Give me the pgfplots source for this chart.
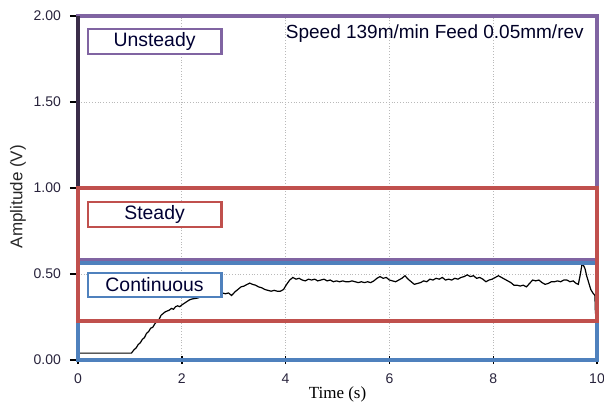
\documentclass[border=0pt]{standalone}
\usepackage{pgfplots}
\pgfplotsset{compat=1.18}
\usepackage{fontspec}
\setmainfont{Liberation Sans}
\newfontfamily\timesfont{Liberation Serif}

\definecolor{zonePurple}{RGB}{128,100,162}
\definecolor{zoneRed}{RGB}{192,80,77}
\definecolor{zoneBlue}{RGB}{79,129,189}
\definecolor{tickText}{RGB}{40,35,60}

\begin{document}
\begin{tikzpicture}
\useasboundingbox (-39pt,-21.5pt) rectangle (263pt,180pt);
\begin{axis}[
  scale only axis,
  width=259.5pt, height=172pt,
  xmin=0, xmax=10, ymin=0, ymax=2,
  xtick={0,2,4,6,8,10},
  ytick={0,0.5,1,1.5,2},
  axis line style={draw=none},
  grid=major,
  grid style={densely dotted, gray!55, line width=0.5pt},
  xtick pos=bottom, ytick pos=left,
  x tick style={black, line width=0.7pt},
  y tick style={black, line width=0.6pt},
  xtick align=center, ytick align=outside,
  major tick length=4pt,
  /pgf/number format/assume math mode=true,
  yticklabel style={/pgf/number format/fixed, /pgf/number format/fixed zerofill, /pgf/number format/precision=2},
  ticklabel style={font=\fontsize{7}{8}\selectfont, text=tickText},
  xticklabel style={yshift=-1.5pt},
  yticklabel style={xshift=-1pt},
  xlabel={\timesfont Time (s)},
  ylabel={Amplitude (V)},
  xlabel style={at={(axis description cs:0.5,0)}, anchor=center, yshift=-17pt, font=\fontsize{8.5}{10}\selectfont},
  ylabel style={at={(axis description cs:-0.1156,0.475)}, anchor=center, rotate=0, font=\fontsize{8.5}{10}\selectfont, text=black!85},
  clip=false,
]
\addplot[black, line width=0.6pt, mark=none] coordinates {
(0,0.04) (1.03,0.04) (1.08,0.06) (1.12,0.07) (1.16,0.09) (1.20,0.10)
(1.24,0.12) (1.28,0.13) (1.32,0.155) (1.36,0.165) (1.40,0.185) (1.44,0.19)
(1.48,0.21) (1.52,0.225) (1.56,0.235) (1.60,0.26) (1.64,0.27) (1.68,0.28)
(1.72,0.285) (1.76,0.29) (1.80,0.30) (1.84,0.295) (1.88,0.31) (1.92,0.315)
(1.96,0.31) (2.00,0.32) (2.05,0.33) (2.10,0.34) (2.15,0.35) (2.20,0.355)
(2.30,0.36) (2.40,0.37) (2.50,0.375) (2.60,0.38) (2.70,0.385) (2.78,0.39)
(2.84,0.385) (2.90,0.39) (2.96,0.375) (3.02,0.395) (3.08,0.41) (3.14,0.425)
(3.20,0.43) (3.26,0.44) (3.31,0.447) (3.36,0.44) (3.42,0.435) (3.48,0.425)
(3.54,0.42) (3.60,0.41) (3.66,0.405) (3.72,0.40) (3.78,0.405) (3.84,0.40)
(3.90,0.40) (3.96,0.41) (4.02,0.44) (4.08,0.465) (4.14,0.48) (4.20,0.47)
(4.26,0.475) (4.32,0.465) (4.38,0.46) (4.44,0.47) (4.50,0.465) (4.56,0.47)
(4.62,0.46) (4.68,0.465) (4.74,0.47) (4.80,0.46) (4.86,0.465) (4.92,0.455)
(4.98,0.46) (5.04,0.455) (5.10,0.46) (5.16,0.455) (5.22,0.455) (5.28,0.46)
(5.34,0.455) (5.40,0.45) (5.46,0.455) (5.52,0.45) (5.58,0.455) (5.64,0.45)
(5.70,0.46) (5.76,0.475) (5.82,0.485) (5.88,0.475) (5.94,0.48) (6.00,0.465)
(6.06,0.46) (6.12,0.455) (6.18,0.465) (6.24,0.475) (6.30,0.49) (6.36,0.47)
(6.42,0.455) (6.48,0.44) (6.54,0.445) (6.60,0.45) (6.66,0.46) (6.72,0.455)
(6.78,0.47) (6.84,0.465) (6.90,0.475) (6.96,0.47) (7.02,0.48) (7.08,0.465)
(7.14,0.47) (7.20,0.465) (7.26,0.475) (7.32,0.47) (7.38,0.48) (7.44,0.485)
(7.50,0.495) (7.56,0.485) (7.62,0.49) (7.68,0.475) (7.74,0.48) (7.80,0.47)
(7.86,0.455) (7.92,0.465) (7.98,0.47) (8.04,0.48) (8.10,0.49) (8.16,0.48)
(8.22,0.47) (8.28,0.46) (8.34,0.45) (8.40,0.435) (8.46,0.435) (8.52,0.43)
(8.58,0.435) (8.64,0.425) (8.70,0.445) (8.76,0.465) (8.82,0.46) (8.88,0.465)
(8.94,0.45) (9.00,0.44) (9.06,0.445) (9.12,0.455) (9.18,0.455) (9.24,0.46)
(9.30,0.455) (9.36,0.465) (9.42,0.465) (9.48,0.455) (9.54,0.46) (9.60,0.445)
(9.64,0.44) (9.68,0.50) (9.71,0.555) (9.74,0.55) (9.77,0.53) (9.80,0.49)
(9.84,0.45) (9.88,0.41) (9.92,0.39) (9.96,0.375) (9.97,0.27)
};

% regime zones
\draw[zonePurple, line width=1.8pt] (axis cs:0,0.583) rectangle (axis cs:10,2);
\draw[zonePurple!45!black, line width=1.8pt] (axis cs:0,1) -- (axis cs:0,2);
\draw[zoneBlue, line width=1.8pt] (axis cs:0,0) rectangle (axis cs:10,0.565);
\draw[zoneRed, line width=1.8pt] (axis cs:0,0.227) rectangle (axis cs:10,1);

% zone labels
\draw[zonePurple, line width=1.3pt, fill=white] (axis cs:0.19,1.779) rectangle (axis cs:2.76,1.924);
\node[font=\fontsize{9.7}{11}\selectfont, text=black!80!blue] at (axis cs:1.475,1.851) {Unsteady};
\draw[zoneRed, line width=1.3pt, fill=white] (axis cs:0.19,0.773) rectangle (axis cs:2.76,0.919);
\node[font=\fontsize{9.7}{11}\selectfont, text=black!80!blue] at (axis cs:1.475,0.846) {Steady};
\draw[zoneBlue, line width=1.3pt, fill=white] (axis cs:0.19,0.366) rectangle (axis cs:2.76,0.506);
\node[font=\fontsize{9.7}{11}\selectfont, text=black!80!blue] at (axis cs:1.475,0.436) {Continuous};

\node[anchor=east, font=\fontsize{9.5}{11}\selectfont, text=black!85!blue] at (axis cs:9.88,1.90) {Speed 139m/min Feed 0.05mm/rev};
\end{axis}
\end{tikzpicture}
\end{document}
